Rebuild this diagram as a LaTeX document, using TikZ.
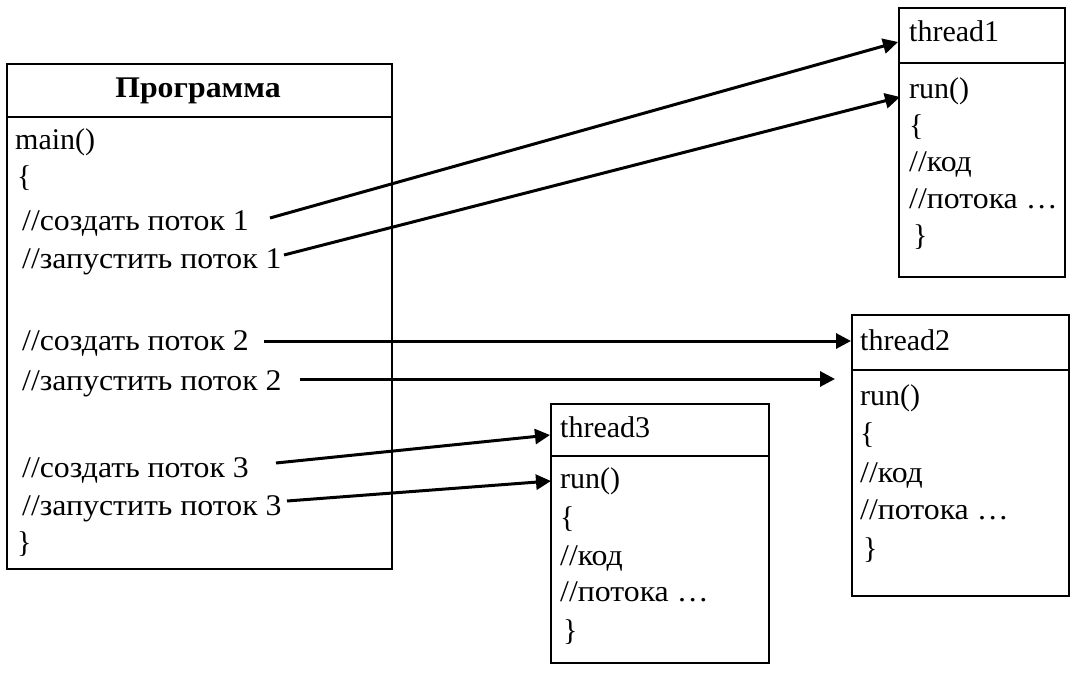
\documentclass[tikz,border=0pt]{standalone}
\usepackage{fontspec}
\setmainfont{Liberation Serif}
% Cyrillic lines are set a little wider
\newfontfamily\cyrwide[FakeStretch=1.06]{Liberation Serif}
\usetikzlibrary{arrows.meta}
\begin{document}
\begin{tikzpicture}[x=1pt,y=-1pt,
  box/.style={draw,line width=1.8pt,inner sep=0pt,anchor=north west},
  txt/.style={anchor=base west,inner sep=0pt,font=\fontsize{30}{36}\selectfont},
  cyr/.style={txt,font=\fontsize{30}{36}\cyrwide},
  link/.style={line width=3pt,-{Triangle[length=15pt,width=15pt]}}]
\useasboundingbox (0,0) rectangle (1072,682);

% --- program box ---
\node[box,minimum width=385pt,minimum height=53pt] (progh) at (6,63) {};
\node[box,minimum width=385pt,minimum height=452pt] (progb) at (6,116) {};
\node[txt,anchor=base,font=\fontsize{30}{36}\cyrwide\bfseries] (title) at (198,98) {Программа};
\node[txt] (pmain) at (15,150) {main()};
\node[txt] (popen) at (17,187) {\{};
\node[cyr] (c1) at (22,230) {//создать поток 1};
\node[cyr] (z1) at (22,268) {//запустить поток 1};
\node[cyr] (c2) at (22,350) {//создать поток 2};
\node[cyr] (z2) at (22,390) {//запустить поток 2};
\node[cyr] (c3) at (22,477) {//создать поток 3};
\node[cyr] (z3) at (22,515) {//запустить поток 3};
\node[txt] (pclose) at (17,552) {\}};

% --- thread1 ---
\node[box,minimum width=166pt,minimum height=55pt] (t1h) at (898,7) {};
\node[box,minimum width=166pt,minimum height=214pt] (t1b) at (898,62) {};
\node[txt] (t1name) at (909,42) {thread1};
\node[txt] (t1run) at (909,99) {run()};
\node[txt] (t1open) at (909,136) {\{};
\node[cyr] (t1code) at (909,172) {//код};
\node[cyr] (t1more) at (909,208) {//потока …};
\node[txt] (t1close) at (913,246) {\}};

% --- thread2 ---
\node[box,minimum width=217pt,minimum height=55pt] (t2h) at (851,314) {};
\node[box,minimum width=217pt,minimum height=226pt] (t2b) at (851,369) {};
\node[txt] (t2name) at (860,350) {thread2};
\node[txt] (t2run) at (860,405) {run()};
\node[txt] (t2open) at (860,443) {\{};
\node[cyr] (t2code) at (860,482) {//код};
\node[cyr] (t2more) at (860,519) {//потока …};
\node[txt] (t2close) at (863,558) {\}};

% --- thread3 ---
\node[box,minimum width=218pt,minimum height=52pt] (t3h) at (550,403) {};
\node[box,minimum width=218pt,minimum height=207pt] (t3b) at (550,455) {};
\node[txt] (t3name) at (560,437) {thread3};
\node[txt] (t3run) at (560,488) {run()};
\node[txt] (t3open) at (560,527) {\{};
\node[cyr] (t3code) at (560,565) {//код};
\node[cyr] (t3more) at (560,601) {//потока …};
\node[txt] (t3close) at (563,640) {\}};

% --- connector ends ---
\coordinate (s1) at (270,218);
\coordinate (e1) at (898,42);
\coordinate (s2) at (284,255);
\coordinate (e2) at (900,97);
\coordinate (s3) at (264,341);
\coordinate (e3) at (851,341);
\coordinate (s4) at (300,379);
\coordinate (e4) at (835,379);
\coordinate (s5) at (276,463);
\coordinate (e5) at (550,435);
\coordinate (s6) at (287,501);
\coordinate (e6) at (551,481);

\draw[link] (s1) -- (e1);
\draw[link] (s2) -- (e2);
\draw[link] (s3) -- (e3);
\draw[link] (s4) -- (e4);
\draw[link] (s5) -- (e5);
\draw[link] (s6) -- (e6);
\end{tikzpicture}
\end{document}
